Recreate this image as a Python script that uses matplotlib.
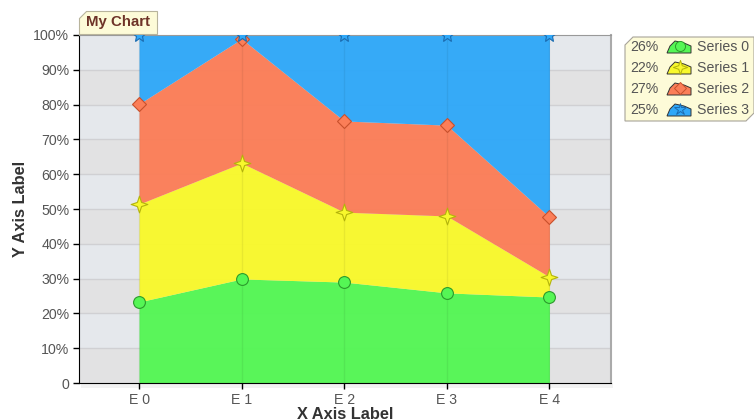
import numpy as np
import matplotlib.pyplot as plt
from matplotlib.patches import Polygon, Rectangle
from matplotlib.path import Path

plt.rcParams['font.family'] = ['Liberation Sans', 'DejaVu Sans']

# percentage values per category, stacked to 100
categories = ['E 0', 'E 1', 'E 2', 'E 3', 'E 4']
series_names = ['Series 0', 'Series 1', 'Series 2', 'Series 3']
s0 = [23.3, 29.9, 29.0, 25.9, 24.7]
s1 = [28.1, 33.3, 20.1, 22.1, 5.8]
s2 = [28.8, 35.7, 26.2, 26.1, 17.2]
s3 = [19.8, 1.1, 24.7, 25.9, 52.3]
legend_share = [26, 22, 27, 25]

fills = ['#55f655', '#f8f82c', '#fb7e58', '#30a8f8']
edges = ['#2c9a2c', '#b4b40c', '#c8502c', '#1c6cb0']

# 4 point star marker
star4 = Path([(0, 1), (0.25, 0.25), (1, 0), (0.25, -0.25), (0, -1),
              (-0.25, -0.25), (-1, 0), (-0.25, 0.25), (0, 1)],
             [Path.MOVETO] + [Path.LINETO] * 7 + [Path.CLOSEPOLY])
markers = ['o', star4, 'D', '*']
msizes = [8.5, 12, 7.5, 11]

fig = plt.figure(figsize=(7.54, 4.19), dpi=100)
ax = fig.add_axes([79 / 754, 36 / 419, 532 / 754, 348 / 419])

# striped plot background
for k in range(10):
    c = '#e5e8ec' if k % 2 else '#e2e2e3'
    ax.axhspan(k * 10, k * 10 + 10, color=c, zorder=0, lw=0)
for k in range(1, 10):
    ax.axhline(k * 10, color='#d0d0d3', lw=1, zorder=1)

x = np.arange(len(categories))
data = np.array([s0, s1, s2, s3])
cum = np.cumsum(data, axis=0)
lower = np.zeros(len(categories))
for i in range(4):
    ax.fill_between(x, lower, cum[i], color=fills[i], lw=0, zorder=2, alpha=0.97)
    lower = cum[i]
for xi in x:
    ax.axvline(xi, color='#000000', alpha=0.06, lw=1, zorder=3)
for i in range(4):
    ax.plot(x, cum[i], ls='none', marker=markers[i], ms=msizes[i],
            mfc=fills[i], mec=edges[i], mew=0.8, zorder=4, clip_on=True)

ax.set_xlim(-0.585, 4.6)
ax.set_ylim(0, 100)
ax.set_xticks(x)
ax.set_xticklabels(categories)
ax.set_yticks(np.arange(0, 101, 10))
ax.set_yticklabels(['0'] + ['%d%%' % v for v in range(10, 101, 10)])
ax.tick_params(axis='both', labelsize=10.2, labelcolor='#555555', color='#000000',
               length=4, width=1, pad=3)
ax.spines['left'].set_color('black')
ax.spines['bottom'].set_color('black')
ax.spines['top'].set_color('#999999')
ax.spines['right'].set_color('#aaaaaa')
ax.spines['right'].set_linewidth(1.5)
ax.set_ylabel('Y Axis Label', fontsize=11.8, fontweight='bold', color='#333333', labelpad=4)
ax.set_xlabel('X Axis Label', fontsize=11.8, fontweight='bold', color='#333333', labelpad=0)

# soft shadow under the plot area
fig.patches.append(Rectangle((81 / 754, 31 / 419), 532 / 754, 5 / 419,
                             transform=fig.transFigure, color='#000000', alpha=0.05, lw=0))


def px(xp, yp):
    return (xp / 754, 1 - yp / 419)


# title tag with clipped corner
tb = [px(86, 11), px(157, 11), px(157, 34), px(79, 34), px(79, 18)]
fig.patches.append(Polygon(tb, closed=True, transform=fig.transFigure,
                           fc='#fdfbd8', ec='#b8b49c', lw=0.8, zorder=5))
fig.text(118 / 754, 1 - 22 / 419, 'My Chart', fontsize=10.8, fontweight='bold',
         color='#6e3328', ha='center', va='center', zorder=6)

# legend box
lb = [px(633, 37), px(754, 37), px(754, 113), px(746, 121), px(625, 121), px(625, 45)]
fig.patches.append(Polygon(lb, closed=True, transform=fig.transFigure,
                           fc='#fdfbd8', ec='#a8a49a', lw=0.8, zorder=5))
for i in range(4):
    yr = 47 + i * 21
    fig.text(630 / 754, 1 - yr / 419, '%d%%' % legend_share[i], fontsize=10.2,
             color='#555555', va='center', zorder=6)
    icon = [px(667, yr + 6), px(670, yr - 1), px(675, yr - 6), px(684, yr - 4),
            px(691, yr - 1), px(691, yr + 6)]
    fig.patches.append(Polygon(icon, closed=True, transform=fig.transFigure,
                               fc=fills[i], ec='#333333', lw=0.7, zorder=6))
    fig.lines.append(plt.Line2D([680 / 754], [1 - (yr - 1) / 419], transform=fig.transFigure,
                                marker=markers[i], ms=msizes[i] * 0.85, mfc=fills[i],
                                mec=edges[i], mew=0.7, zorder=7))
    fig.text(697 / 754, 1 - yr / 419, series_names[i], fontsize=10.2,
             color='#555555', va='center', zorder=6)

fig.savefig('out.png', dpi=100)
